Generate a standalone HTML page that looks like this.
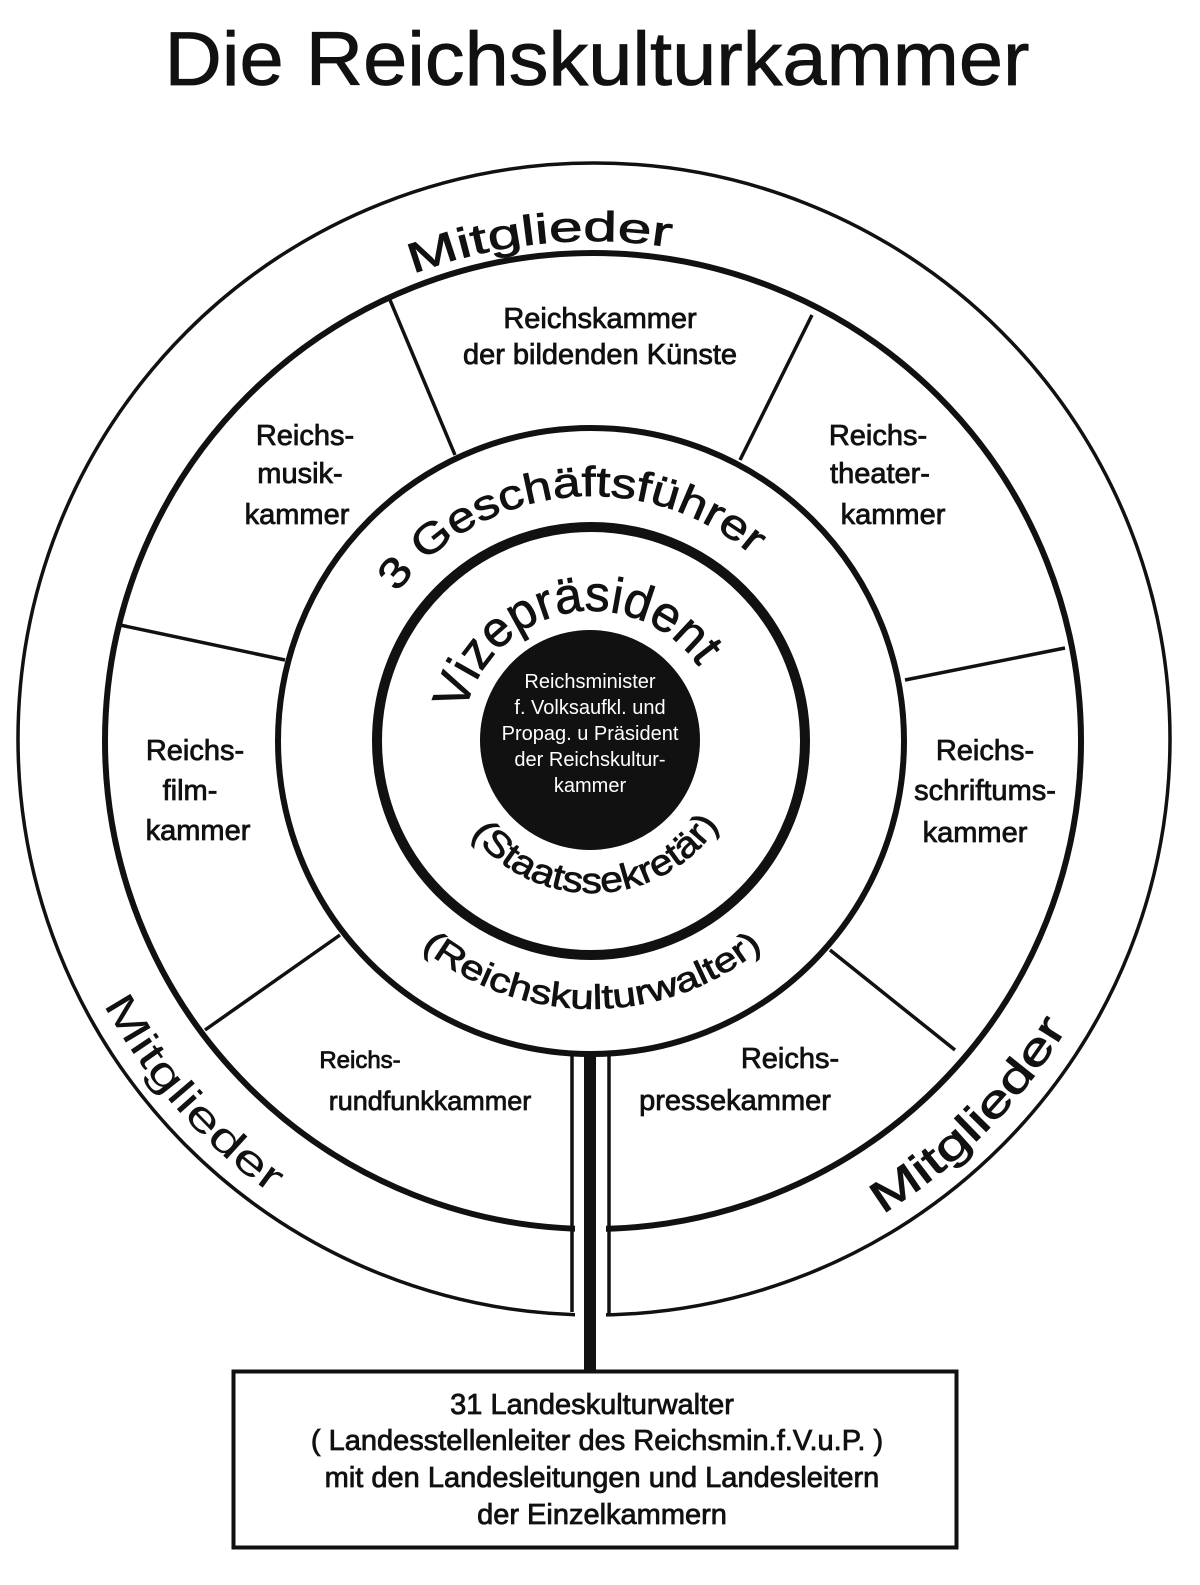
<!DOCTYPE html>
<html><head><meta charset="utf-8"><style>
html,body{margin:0;padding:0;background:#fff;}
svg{display:block;}
text{font-family:"Liberation Sans",sans-serif;fill:#111;}
.b{stroke:#111;stroke-width:0.8;}
</style></head><body>
<svg width="1200" height="1585" viewBox="0 0 1200 1585" xmlns="http://www.w3.org/2000/svg">
<defs>
<path id="pTop" d="M93.2,706.1 A500,500 0 0 1 1072.6,603.2"/>
<path id="pGes" d="M347.6,723.9 A245,245 0 0 1 827.5,673.5"/>
<path id="pViz" d="M462,743.4 A130,130 0 0 1 713.4,694.4"/>
<path id="pSta" d="M443.3,772.6 A152,152 0 0 0 742.5,762.2"/>
<path id="pRkw" d="M328.1,787.5 A268,268 0 0 0 855.9,787.5"/>
<path id="pBL" d="M65.7,564.9 A555,555 0 0 0 702.7,1284.8"/>
<path id="pBR" d="M450.3,1277.6 A555,555 0 0 0 1127.6,595.5"/>
</defs>
<text class="b" x="597" y="85" font-size="76" text-anchor="middle" textLength="865" lengthAdjust="spacingAndGlyphs">Die Reichskulturkammer</text>

<g fill="none" stroke="#111">
<circle cx="594" cy="739" r="576" stroke-width="3.5"/>
<circle cx="593" cy="741" r="488" stroke-width="6"/>
<circle cx="591" cy="741" r="313" stroke-width="6"/>
<circle cx="591" cy="741" r="214" stroke-width="10"/>
</g>
<circle cx="590" cy="740" r="110" fill="#111"/>
<rect x="575" y="1058" width="31" height="262" fill="#fff"/>
<g stroke="#111" stroke-width="3.5">
<line x1="572" y1="1055" x2="572" y2="1312"/>
<line x1="609" y1="1055" x2="609" y2="1315"/>
<line x1="390" y1="300" x2="455" y2="455"/>
<line x1="812" y1="315" x2="740" y2="460"/>
<line x1="120" y1="625" x2="285" y2="660"/>
<line x1="205" y1="1030" x2="340" y2="935"/>
<line x1="905" y1="680" x2="1065" y2="648"/>
<line x1="830" y1="950" x2="955" y2="1050"/>
</g>
<rect x="584" y="1052" width="12" height="320" fill="#111"/>
<rect x="233.5" y="1371.5" width="723" height="176" fill="#fff" stroke="#111" stroke-width="4"/>

<text font-size="42" class="b"><textPath href="#pTop" startOffset="50%" text-anchor="middle" textLength="262" lengthAdjust="spacingAndGlyphs">Mitglieder</textPath></text>
<text font-size="42" class="b"><textPath href="#pGes" startOffset="50%" text-anchor="middle" textLength="400" lengthAdjust="spacingAndGlyphs">3 Geschäftsführer</textPath></text>
<text font-size="50" class="b"><textPath href="#pViz" startOffset="50%" text-anchor="middle" textLength="300" lengthAdjust="spacingAndGlyphs">Vizepräsident</textPath></text>
<text font-size="36" class="b"><textPath href="#pSta" startOffset="50%" text-anchor="middle" textLength="290" lengthAdjust="spacingAndGlyphs">(Staatssekretär)</textPath></text>
<text font-size="34" class="b"><textPath href="#pRkw" startOffset="50%" text-anchor="middle" textLength="370" lengthAdjust="spacingAndGlyphs">(Reichskulturwalter)</textPath></text>
<text font-size="42"><textPath href="#pBL" startOffset="50%" text-anchor="middle" textLength="255" lengthAdjust="spacingAndGlyphs">Mitglieder</textPath></text>
<text font-size="44" class="b"><textPath href="#pBR" startOffset="50%" text-anchor="middle" textLength="265" lengthAdjust="spacingAndGlyphs">Mitglieder</textPath></text>

<g font-size="29" text-anchor="middle" class="b">
<text x="600" y="328">Reichskammer</text>
<text x="600" y="364">der bildenden Künste</text>
<text x="305" y="445">Reichs-</text><text x="300" y="483">musik-</text><text x="297" y="524">kammer</text>
<text x="878" y="445">Reichs-</text><text x="880" y="483">theater-</text><text x="893" y="524">kammer</text>
<text x="195" y="760">Reichs-</text><text x="190" y="800">film-</text><text x="198" y="840">kammer</text>
<text x="985" y="760">Reichs-</text><text x="985" y="800">schriftums-</text><text x="975" y="842">kammer</text>
<text x="360" y="1068" font-size="24">Reichs-</text><text x="430" y="1110" font-size="27">rundfunkkammer</text>
<text x="790" y="1068">Reichs-</text><text x="735" y="1110">pressekammer</text>
</g>
<g font-size="20" text-anchor="middle">
<text x="590" y="688" style="fill:#fff">Reichsminister</text>
<text x="590" y="714" style="fill:#fff">f. Volksaufkl. und</text>
<text x="590" y="740" style="fill:#fff">Propag. u Präsident</text>
<text x="590" y="766" style="fill:#fff">der Reichskultur-</text>
<text x="590" y="792" style="fill:#fff">kammer</text>
</g>
<g font-size="29" text-anchor="middle" class="b">
<text x="592" y="1414">31 Landeskulturwalter</text>
<text x="597" y="1450">( Landesstellenleiter des Reichsmin.f.V.u.P. )</text>
<text x="602" y="1487">mit den Landesleitungen und Landesleitern</text>
<text x="602" y="1524">der Einzelkammern</text>
</g>
</svg>
</body></html>
